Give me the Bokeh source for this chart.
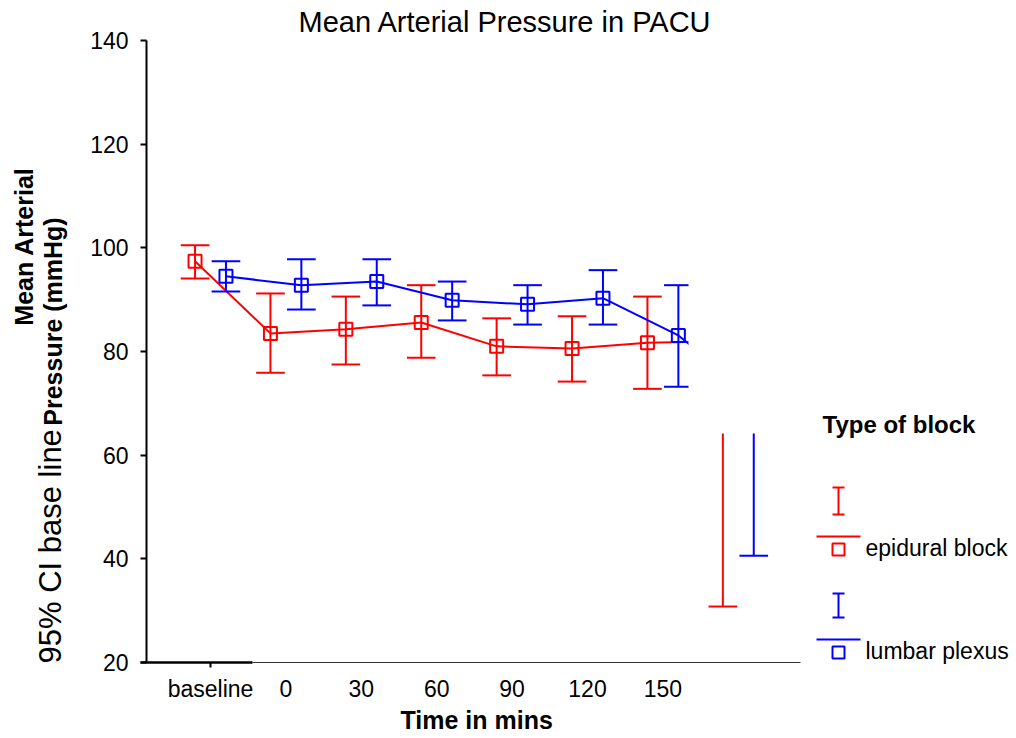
import math
from bokeh.plotting import figure
from bokeh.models import Range1d, FixedTicker
from bokeh.core.properties import value
from bokeh.embed import file_html
from bokeh.resources import INLINE

# ---------------- data ----------------
categories = ["baseline", "0", "30", "60", "90", "120", "150", ""]
epidural_mean = [97.4, 83.5, 84.3, 85.6, 81.0, 80.6, 81.7, 82.0]
epidural_lower = [94.1, 75.9, 77.5, 78.8, 75.4, 74.2, 72.8, 30.8]
epidural_upper = [100.5, 91.2, 90.6, 92.8, 86.4, 86.8, 90.6, 133.0]
lumbar_mean = [94.5, 92.8, 93.5, 89.9, 89.1, 90.3, 83.1, 71.5]
lumbar_lower = [91.6, 88.1, 88.9, 86.0, 85.2, 85.2, 73.2, 40.6]
lumbar_upper = [97.4, 97.8, 97.8, 93.5, 92.8, 95.7, 92.8, 102.0]
y_ticks = [20, 40, 60, 80, 100, 120, 140]
series_names = ["epidural block", "lumbar plexus"]
series_colors = ["#ff0000", "#0000ff"]
title_text = "Mean Arterial Pressure in PACU"

# ---------------- layout helpers (page pixel -> data) ----------------
FONT = value("Liberation Sans")
W, H = 1012, 738
X0_PX, STEP = 210.0, 75.4
Y20_PX, PPU = 662.0, 5.183


def X(px):
    return (px - X0_PX) / STEP


def Y(py):
    return 20 + (Y20_PX - py) / PPU


p = figure(width=W, height=H,
           x_range=Range1d(X(0), X(W)), y_range=Range1d(Y(H), Y(0)),
           output_backend="svg", toolbar_location=None, min_border=0)
p.outline_line_color = None
p.xgrid.visible = False
p.ygrid.visible = False
p.background_fill_color = "white"
p.border_fill_color = "white"

# y axis
yax = p.yaxis[0]
yax.fixed_location = X(146)
yax.bounds = (20, 140)
yax.ticker = FixedTicker(ticks=y_ticks)
yax.axis_line_width = 2
yax.axis_line_color = "black"
yax.major_tick_line_width = 2
yax.major_tick_line_color = "black"
yax.major_tick_out = 6
yax.major_tick_in = 0
yax.minor_tick_line_color = None
yax.major_label_text_font = "Liberation Sans"
yax.major_label_text_font_size = "23px"
yax.major_label_text_color = "black"
yax.major_label_standoff = 12

# x axis
n_visible = 7
xax = p.xaxis[0]
xax.fixed_location = 20
xax.ticker = FixedTicker(ticks=list(range(n_visible)))
xax.major_label_overrides = {i: categories[i] for i in range(n_visible)}
xax.axis_line_color = None
xax.major_tick_line_color = None
xax.minor_tick_line_color = None
xax.major_label_text_font = "Liberation Sans"
xax.major_label_text_font_size = "23px"
xax.major_label_text_color = "black"
xax.major_label_standoff = 7

# ---------------- series ----------------
idx = list(range(len(categories)))
dodge = 0.205
cap = 0.19
series = [
    (epidural_mean, epidural_lower, epidural_upper, series_colors[0], -dodge),
    (lumbar_mean, lumbar_lower, lumbar_upper, series_colors[1], dodge),
]
for mean, lo, hi, col, d in series:
    xs = [i + d for i in idx]
    p.line(xs, mean, line_color=col, line_width=2)
    p.segment(xs, lo, xs, hi, line_color=col, line_width=2)
    p.segment([x - cap for x in xs], lo, [x + cap for x in xs], lo, line_color=col, line_width=2)
    p.segment([x - cap for x in xs], hi, [x + cap for x in xs], hi, line_color=col, line_width=2)
    p.scatter(xs, mean, marker="square", size=13, line_color=col, line_width=2,
              fill_color=None)

# white legend box region of the original (covers the clipped part)
p.quad(left=[X(688)], right=[X(W + 4)], bottom=[Y(433)], top=[Y(-4)],
       fill_color="white", line_color=None)

# x axis line (thick part under baseline + thin part), baseline tick
p.segment([X(140)], [20], [X(252)], [20], line_color="black", line_width=2.5)
p.segment([X(252)], [20], [X(800)], [20], line_color="#333333", line_width=1)
p.segment([0], [20], [0], [Y(667)], line_color="black", line_width=2)

# title
p.text(x=[X(298)], y=[Y(21.5)], text=[title_text], text_font=FONT,
       text_font_size="29px", text_color="black",
       text_align="left", text_baseline="middle")

# axis titles
p.text(x=[X(400)], y=[Y(719.5)], text=["Time in mins"], text_font=FONT,
       text_font_size="25px", text_font_style="bold", text_color="black",
       text_align="left", text_baseline="middle")
p.text(x=[X(23)], y=[Y(246)], text=["Mean Arterial"], text_font=FONT,
       text_font_size="25px", text_font_style="bold", text_color="black",
       text_align="center", text_baseline="middle", angle=math.pi / 2)
p.text(x=[X(52.5)], y=[Y(321)], text=["Pressure (mmHg)"], text_font=FONT,
       text_font_size="25px", text_font_style="bold", text_color="black",
       text_align="center", text_baseline="middle", angle=math.pi / 2)
p.text(x=[X(49.5)], y=[Y(663)], text=["95% CI base line"], text_font=FONT,
       text_font_size="31px", text_color="black",
       text_align="left", text_baseline="middle", angle=math.pi / 2)

# legend
p.text(x=[X(822)], y=[Y(423.5)], text=["Type of block"], text_font=FONT,
       text_font_size="24px", text_font_style="bold", text_color="black",
       text_align="left", text_baseline="middle")
leg_rows = [(487, 514, 536, 549), (593, 617, 639, 652)]
for (wt, wb, ly, sy), name, col in zip(leg_rows, series_names, series_colors):
    p.segment([X(838)], [Y(wt)], [X(838)], [Y(wb)], line_color=col, line_width=2)
    p.segment([X(832), X(832)], [Y(wt), Y(wb)], [X(844), X(844)], [Y(wt), Y(wb)],
              line_color=col, line_width=2)
    p.segment([X(816)], [Y(ly)], [X(860)], [Y(ly)], line_color=col, line_width=2)
    p.scatter([X(838)], [Y(sy)], marker="square", size=12, line_color=col,
              line_width=2, fill_color=None)
    p.text(x=[X(865)], y=[Y(sy - 1.5)], text=[name], text_font=FONT, text_font_size="23px",
           text_color="black", text_align="left", text_baseline="middle")

open("out.html", "w").write(file_html(p, INLINE))
